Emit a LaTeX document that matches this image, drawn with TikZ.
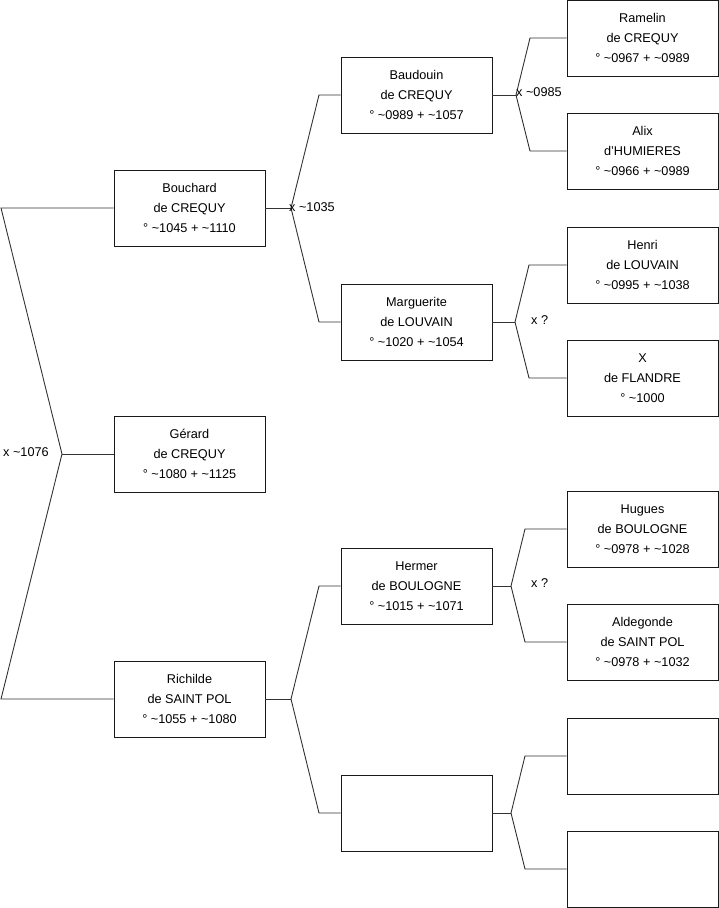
\documentclass[tikz,border=0pt]{standalone}
\usepackage{fontspec}
\setmainfont{Liberation Sans}
\begin{document}
\begin{tikzpicture}[x=1pt,y=-1pt,
  person/.style={draw=black!90, line width=0.9pt, minimum width=151pt, minimum height=76pt, inner sep=0pt, align=center, font=\fontsize{12.7}{20}\selectfont},
  conn/.style={draw=black!80, line width=0.9pt},
  lbl/.style={anchor=west, inner sep=0pt, font=\fontsize{12.7}{15}\selectfont}]
\useasboundingbox (0,0) rectangle (719,908);
% level 1
\node[person] (bouchard) at (189.5,208) {Bouchard\\de CREQUY\\° \textasciitilde1045 + \textasciitilde1110};
\node[person] (gerard) at (189.5,454) {Gérard\\de CREQUY\\° \textasciitilde1080 + \textasciitilde1125};
\node[person] (richilde) at (189.5,699) {Richilde\\de SAINT POL\\° \textasciitilde1055 + \textasciitilde1080};
% level 2
\node[person] (baudouin) at (416.5,95) {Baudouin\\de CREQUY\\° \textasciitilde0989 + \textasciitilde1057};
\node[person] (marguerite) at (416.5,322) {Marguerite\\de LOUVAIN\\° \textasciitilde1020 + \textasciitilde1054};
\node[person] (hermer) at (416.5,586) {Hermer\\de BOULOGNE\\° \textasciitilde1015 + \textasciitilde1071};
\node[person] (emptyA) at (416.5,813) {};
% level 3
\node[person] (ramelin) at (642.5,38) {Ramelin\\de CREQUY\\° \textasciitilde0967 + \textasciitilde0989};
\node[person] (alix) at (642.5,151) {Alix\\d'HUMIERES\\° \textasciitilde0966 + \textasciitilde0989};
\node[person] (henri) at (642.5,265) {Henri\\de LOUVAIN\\° \textasciitilde0995 + \textasciitilde1038};
\node[person] (xfl) at (642.5,378) {X\\de FLANDRE\\° \textasciitilde1000};
\node[person] (hugues) at (642.5,529) {Hugues\\de BOULOGNE\\° \textasciitilde0978 + \textasciitilde1028};
\node[person] (aldegonde) at (642.5,642) {Aldegonde\\de SAINT POL\\° \textasciitilde0978 + \textasciitilde1032};
\node[person] (emptyB) at (642.5,756) {};
\node[person] (emptyC) at (642.5,869) {};
% fork coordinates
\coordinate (f0) at (62,454); \coordinate (f0t) at (1,208); \coordinate (f0b) at (1,699);
\coordinate (f1) at (291,208); \coordinate (f1t) at (319,95); \coordinate (f1b) at (319,322);
\coordinate (f2) at (291,699); \coordinate (f2t) at (319,586); \coordinate (f2b) at (319,813);
\coordinate (f3) at (516,95); \coordinate (f3t) at (530,38); \coordinate (f3b) at (530,151);
\coordinate (f4) at (515,322); \coordinate (f4t) at (529,265); \coordinate (f4b) at (529,378);
\coordinate (f5) at (511,586); \coordinate (f5t) at (525,529); \coordinate (f5b) at (525,642);
\coordinate (f6) at (511,813); \coordinate (f6t) at (525,756); \coordinate (f6b) at (525,869);
% connectors
\draw[conn] (gerard.west) -- (f0);
\draw[conn] (f0) -- (f0t) -- (bouchard.west);
\draw[conn] (f0) -- (f0b) -- (richilde.west);
\draw[conn] (bouchard.east) -- (f1);
\draw[conn] (f1) -- (f1t) -- (baudouin.west);
\draw[conn] (f1) -- (f1b) -- (marguerite.west);
\draw[conn] (richilde.east) -- (f2);
\draw[conn] (f2) -- (f2t) -- (hermer.west);
\draw[conn] (f2) -- (f2b) -- (emptyA.west);
\draw[conn] (baudouin.east) -- (f3);
\draw[conn] (f3) -- (f3t) -- (ramelin.west);
\draw[conn] (f3) -- (f3b) -- (alix.west);
\draw[conn] (marguerite.east) -- (f4);
\draw[conn] (f4) -- (f4t) -- (henri.west);
\draw[conn] (f4) -- (f4b) -- (xfl.west);
\draw[conn] (hermer.east) -- (f5);
\draw[conn] (f5) -- (f5t) -- (hugues.west);
\draw[conn] (f5) -- (f5b) -- (aldegonde.west);
\draw[conn] (emptyA.east) -- (f6);
\draw[conn] (f6) -- (f6t) -- (emptyB.west);
\draw[conn] (f6) -- (f6b) -- (emptyC.west);
% labels
\node[lbl] (l0) at (3,452) {x \textasciitilde1076};
\node[lbl] (l1) at (289,207) {x \textasciitilde1035};
\node[lbl] (l3) at (516,92) {x \textasciitilde0985};
\node[lbl] (l4) at (531,320) {x ?};
\node[lbl] (l5) at (531,583) {x ?};
\end{tikzpicture}
\end{document}
